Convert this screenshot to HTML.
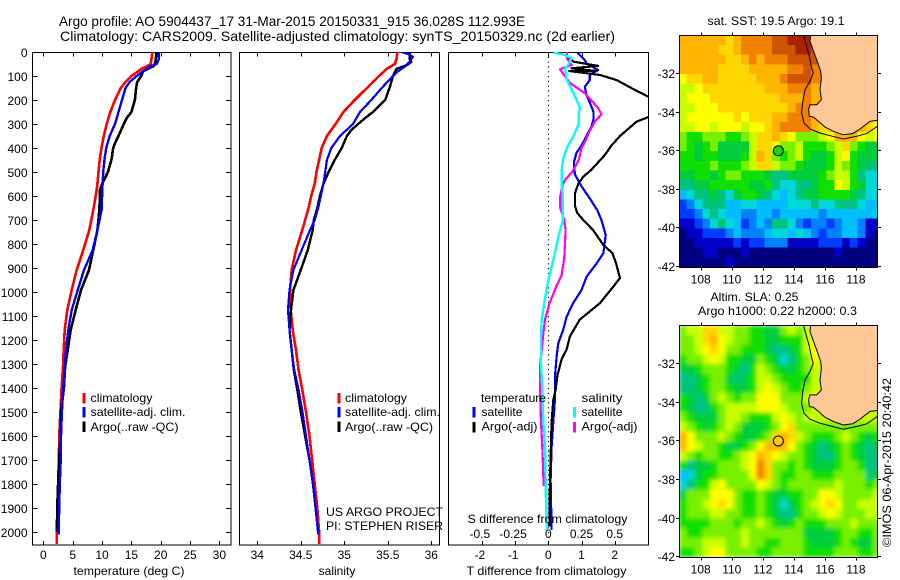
<!DOCTYPE html>
<html>
<head>
<meta charset="utf-8">
<title>Argo profile</title>
<style>
html,body{margin:0;padding:0;background:#fff;}
svg{display:block;}
text{font-family:"Liberation Sans",sans-serif;font-size:12px;fill:#000;}
.t{font-size:14px;}
</style>
</head>
<body>
<svg id="fig" xmlns="http://www.w3.org/2000/svg" width="900" height="580" viewBox="0 0 900 580">
<defs>
<clipPath id="clip-temp"><rect x="32.5" y="52" width="198.5" height="493"/></clipPath>
<clipPath id="clip-sal"><rect x="239.5" y="52" width="200" height="493"/></clipPath>
<clipPath id="clip-diff"><rect x="448.5" y="52" width="200" height="493"/></clipPath>
<clipPath id="clip-sst"><rect x="679.5" y="35.5" width="198" height="231.5"/></clipPath>
<clipPath id="clip-sla"><rect x="679.5" y="325.5" width="198" height="231.5"/></clipPath>
<filter id="soft" x="-5%" y="-5%" width="110%" height="110%"><feGaussianBlur stdDeviation="2"/></filter>
</defs>

<text class="t" x="59" y="26" textLength="466" lengthAdjust="spacingAndGlyphs">Argo profile: AO 5904437_17 31-Mar-2015 20150331_915 36.028S 112.993E</text>
<text class="t" x="60" y="41" textLength="555" lengthAdjust="spacingAndGlyphs">Climatology: CARS2009. Satellite-adjusted climatology: synTS_20150329.nc (2d earlier)</text>

<g id="g-temp"></g>
<g id="g-sal"></g>
<g id="g-diff"></g>
<g id="g-sst"></g>
<g id="g-sla"></g>

<text x="129" y="575" text-anchor="middle" textLength="111" lengthAdjust="spacingAndGlyphs">temperature (deg C)</text>
<text x="337" y="575" text-anchor="middle">salinity</text>
<text x="466.5" y="575" textLength="160" lengthAdjust="spacingAndGlyphs">T difference from climatology</text>
<text x="467.5" y="523" textLength="160" lengthAdjust="spacingAndGlyphs">S difference from climatology</text>

<g>
<rect x="82.5" y="393" width="3" height="10.5" fill="#f00"/>
<rect x="82.5" y="407" width="3" height="10.5" fill="#00f"/>
<rect x="82.5" y="421.5" width="3" height="10.5" fill="#000"/>
<text x="90.5" y="402" textLength="62" lengthAdjust="spacingAndGlyphs">climatology</text>
<text x="90.5" y="416" textLength="95" lengthAdjust="spacingAndGlyphs">satellite-adj. clim.</text>
<text x="90.5" y="431" textLength="88" lengthAdjust="spacingAndGlyphs">Argo(..raw -QC)</text>
</g>
<g>
<rect x="337.5" y="393" width="3" height="10.5" fill="#f00"/>
<rect x="337.5" y="407" width="3" height="10.5" fill="#00f"/>
<rect x="337.5" y="421.5" width="3" height="10.5" fill="#000"/>
<text x="345" y="402" textLength="62" lengthAdjust="spacingAndGlyphs">climatology</text>
<text x="345" y="416" textLength="95" lengthAdjust="spacingAndGlyphs">satellite-adj. clim.</text>
<text x="345" y="431" textLength="88" lengthAdjust="spacingAndGlyphs">Argo(..raw -QC)</text>
<text x="326" y="516" textLength="117" lengthAdjust="spacingAndGlyphs">US ARGO PROJECT</text>
<text x="326" y="530" textLength="117" lengthAdjust="spacingAndGlyphs">PI: STEPHEN RISER</text>
</g>
<g>
<text x="481" y="402" textLength="65" lengthAdjust="spacingAndGlyphs">temperature</text>
<text x="581.5" y="402" textLength="41" lengthAdjust="spacingAndGlyphs">salinity</text>
<rect x="472.5" y="407" width="3" height="10.5" fill="#00f"/>
<rect x="472.5" y="422" width="3" height="10.5" fill="#000"/>
<rect x="573" y="407" width="3" height="10.5" fill="#0ff"/>
<rect x="573" y="422" width="3" height="10.5" fill="#f0f"/>
<text x="481.5" y="416" textLength="41" lengthAdjust="spacingAndGlyphs">satellite</text>
<text x="481.5" y="430.5" textLength="56" lengthAdjust="spacingAndGlyphs">Argo(-adj)</text>
<text x="581.5" y="416" textLength="41" lengthAdjust="spacingAndGlyphs">satellite</text>
<text x="581.5" y="430.5" textLength="56" lengthAdjust="spacingAndGlyphs">Argo(-adj)</text>
</g>

<text x="776" y="25" text-anchor="middle" textLength="137" lengthAdjust="spacingAndGlyphs">sat. SST: 19.5 Argo: 19.1</text>
<text x="754.5" y="301" text-anchor="middle" textLength="88" lengthAdjust="spacingAndGlyphs">Altim. SLA: 0.25</text>
<text x="777.5" y="315" text-anchor="middle" textLength="159" lengthAdjust="spacingAndGlyphs">Argo h1000: 0.22 h2000: 0.3</text>
<text transform="translate(891,547) rotate(-90)" textLength="169" lengthAdjust="spacingAndGlyphs">©IMOS 06-Apr-2015 20:40:42</text>
</svg>

<script>
// ---- depth profile data (depth in m) ----
const tempClimDepth = [0,50,60,70,80,100,125,150,200,250,300,350,400,450,500,550,575,658,742,825,908,992,1075,1158,1242,1312,1400,1500,1600,1700,1800,1900,2000,2050];
const tempClimValues = [18.6,18.3,17.6,16.7,16.2,15,14,13.2,12.2,11.4,10.8,10.3,9.9,9.6,9.4,9.2,9.08,8.5,7.83,6.8,5.67,4.82,4.08,3.63,3.46,3.34,3.1,2.9,2.7,2.65,2.5,2.35,2.3,2.3];
const tempSatDepth = [0,30,50,60,70,80,100,125,150,200,250,300,350,400,450,500,575,658,742,825,908,992,1075,1158,1242,1312,1400,1500,1600,1700,1800,1900,2010];
const tempSatValues = [19.7,19.7,19.3,18.2,17.6,17,15.9,14.7,14,13.4,12.8,12.2,11.3,10.7,10.4,10.2,10.05,9.93,9.2,8.4,6.92,5.85,4.82,4.25,3.85,3.63,3.4,3.15,3,2.95,2.8,2.7,2.6];
const tempArgoDepth = [0,40,50,60,80,100,125,150,200,250,275,300,350,380,400,450,500,550,575,658,742,825,908,992,1075,1158,1242,1312,1400,1500,1600,1700,1800,1900,2000];
const tempArgoValues = [19.3,19.1,19,18.7,17,16.7,16,15.8,15.6,15,14.2,13.7,12.8,12.2,11.9,11.6,11,10,9.65,9.54,9.2,8.5,7.78,6.41,5.5,4.65,4.14,3.7,3.5,3,2.9,2.7,2.5,2.35,2.3];

const salClimDepth = [0,30,50,70,100,150,200,250,300,350,400,450,500,550,600,650,700,742,825,908,992,1075,1158,1242,1325,1408,1500,1600,1700,1800,1900,2000,2050];
const salClimValues = [35.61,35.6,35.58,35.49,35.4,35.26,35.12,34.99,34.9,34.8,34.74,34.71,34.68,34.66,34.62,34.59,34.55,34.517,34.445,34.395,34.376,34.384,34.407,34.445,34.475,34.517,34.56,34.6,34.63,34.66,34.69,34.71,34.71];
const salSatDepth = [0,10,20,40,60,80,100,150,200,250,300,350,400,450,500,550,600,650,700,742,825,908,992,1075,1158,1242,1325,1408,1500,1600,1700,1800,1900,2010];
const salSatValues = [35.66,35.74,35.79,35.75,35.7,35.62,35.56,35.43,35.31,35.18,35.1,34.95,34.85,34.8,34.78,34.76,34.73,34.7,34.66,34.606,34.51,34.415,34.37,34.353,34.37,34.395,34.425,34.475,34.52,34.56,34.6,34.64,34.67,34.7];
const salArgoDepth = [0,30,40,50,60,70,100,150,200,250,275,300,325,350,400,450,500,550,600,650,700,742,825,908,992,1075,1158,1242,1325,1408,1500,1600,1700,1800,1900,2000];
const salArgoValues = [35.75,35.75,35.77,35.74,35.68,35.6,35.56,35.52,35.47,35.33,35.24,35.16,35.08,35.03,34.97,34.89,34.82,34.76,34.72,34.69,34.65,34.637,34.58,34.5,34.415,34.387,34.37,34.395,34.42,34.46,34.5,34.55,34.6,34.64,34.67,34.7];

const dTSatDepth = [3,33,47,75,96,117,145,179,228,250,280,310,350,390,420,460,510,560,610,660,700,762,838,880,937,992,1046,1103,1158,1213,1270,1354,1450,1542,1646,1783,1992];
const dTSatValues = [0.88,1.1,1.15,1.5,1.25,1.25,1.1,1.15,1.3,1.36,1.36,1.3,1.15,1,0.85,0.77,0.8,1,1.25,1.48,1.6,1.73,1.66,1.46,1.15,1,0.75,0.55,0.45,0.3,0.25,0.2,0.2,0.15,0.1,0.07,0.1];
const dTArgoDepth = [20,40,58,68,79,79,96,117,150,186,225,272,290,320,350,390,430,490,520,550,590,640,670,700,742,804,838,880,942,977,1046,1115,1185,1240,1280,1350,1408,1450,1542,1783,1978];
const dTArgoValues = [0.6,0.75,1.5,0.7,1.45,0.63,1.56,2.06,2.5,3,3.6,3,2.66,2.41,2.16,1.9,1.7,1.3,1.05,0.9,0.8,0.8,0.87,1.05,1.35,1.66,1.93,2.04,2.16,1.96,1.56,0.95,0.65,0.55,0.4,0.27,0.22,0.15,0.1,0.05,0.03];
const dSSatDepth = [3,10,25,54,68,117,172,234,250,300,350,400,450,500,550,600,650,700,762,838,905,977,1046,1115,1185,1300,1408,1450,1542,1646,1783,1992];
const dSSatValues = [0.04,0.11,0.176,0.15,0.126,0.14,0.19,0.24,0.23,0.23,0.19,0.14,0.11,0.1,0.1,0.11,0.11,0.11,0.08,0.05,0.02,-0.01,-0.03,-0.05,-0.055,-0.055,-0.045,-0.043,-0.038,-0.025,-0.02,-0.013];
const dSArgoDepth = [0,27,54,72,129,172,234,260,290,330,370,400,450,500,530,550,600,650,700,742,804,860,930,977,1046,1115,1185,1300,1408,1450,1542,1646,1808];
const dSArgoValues = [0.14,0.14,0.176,0.088,0.163,0.276,0.376,0.4,0.35,0.31,0.28,0.25,0.23,0.18,0.13,0.11,0.09,0.09,0.12,0.13,0.125,0.12,0.1,0.06,0.01,-0.025,-0.04,-0.06,-0.06,-0.06,-0.055,-0.045,-0.035];

// ---- tick labels ----
const depthTicks = [0,100,200,300,400,500,600,700,800,900,1000,1100,1200,1300,1400,1500,1600,1700,1800,1900,2000];
const tempTicks = [0,5,10,15,20,25,30];
const salTicks = [34,34.5,35,35.5,36];
const dTTicks = [-2,-1,0,1,2];
const dSTicks = [-0.5,-0.25,0,0.25,0.5];
const dSTickLabels = ["-0.5","-0.25","0","0.25","0.5"];
const lonTicks = [108,110,112,114,116,118];
const latTicks = [-32,-34,-36,-38,-40,-42];

// ---- map data ----
const profileLon = 113;
const profileLat = -36.03;
const coastLon = [115.08,115.04,115.3,115.47,115.73,115.77,115.68,115.77,115.47,115.04,114.95,115,115.25,115.58,116,116.54,117.18,117.79,118.26,118.9,119.37];
const coastLat = [-30.03,-30.36,-30.96,-31.31,-31.91,-32.26,-32.86,-33.38,-33.64,-33.64,-33.9,-34.25,-34.28,-34.5,-34.8,-35.02,-35.2,-35.14,-34.9,-34.5,-34.45];
const isobathLon = [114.61,114.82,115,115.15,115.25,115.04,114.72,114.57,114.5,114.65,115.04,115.68,116.33,117.18,118.04,118.69,119.37];
const isobathLat = [-30.03,-30.62,-31.14,-31.74,-32,-32.43,-32.86,-33.47,-34.07,-34.59,-34.9,-35.11,-35.25,-35.42,-35.28,-35.14,-34.76];
// colour class per 0.5 degree cell, north to south, west to east
const sstGrid = [
[13,13,13,13,13,13,12,13,14,14,14,14,15,15,16,16,16,15,14,14,14,14,14,14,14,14],
[13,13,13,13,13,12,12,13,14,14,14,14,15,15,15,16,16,15,14,14,14,14,14,14,14,14],
[13,13,13,13,13,13,12,12,13,14,13,14,14,14,15,15,15,15,14,14,14,14,14,14,14,14],
[13,13,13,13,13,12,12,12,12,13,13,13,13,13,14,14,15,14,14,14,14,14,14,14,14,14],
[11,12,12,13,13,12,12,12,12,12,13,13,13,14,15,15,15,14,14,14,14,14,14,14,14,14],
[10,10,11,12,12,12,12,12,12,12,12,13,13,13,14,14,14,13,13,13,13,13,13,13,13,13],
[10,11,11,11,12,12,12,12,12,12,12,12,12,13,13,13,14,13,13,13,13,13,13,13,13,13],
[10,10,11,11,11,12,12,12,12,12,12,12,12,12,13,14,14,13,12,12,12,12,12,12,12,12],
[10,11,11,11,11,11,11,12,11,12,12,12,13,13,14,14,14,13,13,12,12,12,12,12,12,12],
[10,10,11,11,10,11,11,11,10,11,11,12,13,14,14,14,14,13,12,12,13,14,14,13,12,11],
[9,8,8,9,9,9,8,8,9,10,12,12,13,12,11,9,9,9,10,11,13,13,13,11,10,11],
[9,8,7,8,9,7,7,7,7,10,12,12,11,9,9,10,8,8,8,9,10,12,9,8,7,7],
[8,8,7,8,8,7,7,7,8,10,13,12,9,8,9,10,8,7,7,8,10,11,8,7,7,7],
[8,8,8,8,9,8,8,8,9,10,12,12,10,9,9,8,7,7,7,8,10,9,8,7,6,6],
[7,7,8,8,7,8,9,9,8,8,8,7,6,6,7,7,7,7,8,9,10,10,8,6,5,5],
[6,6,7,7,8,8,8,8,8,7,7,8,6,5,5,6,6,7,8,8,11,10,8,7,5,5],
[4,5,6,6,7,6,5,7,8,8,7,6,5,4,5,6,7,7,8,8,8,8,7,6,5,5],
[2,3,5,6,6,6,4,4,5,5,4,4,4,4,5,5,5,6,5,5,6,6,6,5,4,4],
[2,2,3,5,6,5,4,4,3,3,4,4,3,4,4,4,4,4,3,4,4,4,4,4,4,5],
[1,1,2,3,5,6,5,4,2,3,4,3,6,6,5,3,2,3,3,2,3,4,4,3,1,1],
[0,1,1,2,2,2,3,4,3,3,3,4,5,5,4,5,4,3,2,3,3,4,4,3,1,0],
[0,0,1,1,1,1,1,2,1,2,2,3,3,3,1,1,1,1,2,2,2,1,2,1,0,0],
[0,0,0,1,1,0,0,0,1,0,0,0,0,0,0,0,0,0,0,0,1,0,0,0,0,0],
[0,0,0,0,0,0,1,0,0,0,0,0,0,0,0,0,0,0,0,0,0,0,0,0,0,0]
];
const slaGrid = [
[9,10,10,12,12,10,10,9,9,8,8,7,7,9,10,9,10,10,10,10,10,10,10,10,10,10],
[9,9,10,12,13,11,10,9,9,8,8,7,7,8,8,8,10,11,10,10,10,10,10,10,10,10],
[9,9,10,11,12,11,9,9,8,8,8,7,6,6,7,8,10,11,10,10,10,10,10,10,10,10],
[8,9,9,10,11,10,8,8,7,7,9,8,7,5,6,8,9,11,10,10,10,10,10,10,10,10],
[7,7,8,9,9,9,8,7,6,8,10,9,8,7,7,8,9,10,10,10,10,10,10,10,10,10],
[6,6,7,8,9,9,7,6,7,8,10,10,9,8,8,8,8,10,10,10,10,10,10,10,10,10],
[6,6,7,8,9,9,8,7,7,8,10,11,10,9,8,8,9,10,10,10,10,10,10,10,10,10],
[8,7,6,7,9,10,9,8,9,9,11,11,11,9,9,9,10,11,10,10,10,10,10,10,10,10],
[8,7,6,6,8,9,10,10,10,10,11,11,11,10,9,9,9,10,10,10,10,10,10,10,10,10],
[9,8,7,7,7,9,10,10,9,8,8,8,10,11,10,9,10,10,10,10,10,10,10,10,10,10],
[10,9,8,7,8,9,10,9,7,7,7,8,9,11,12,9,9,9,9,9,9,9,9,9,9,9],
[13,11,9,9,9,10,9,8,7,7,8,9,12,13,12,10,9,8,8,8,9,10,9,8,7,8],
[13,11,10,9,9,8,7,7,8,9,11,13,13,13,11,9,8,7,6,7,8,9,8,7,6,7],
[10,9,8,9,9,8,8,9,10,11,13,12,11,10,9,9,8,7,6,6,8,9,8,7,6,6],
[8,6,7,7,8,9,9,9,10,11,14,12,9,9,8,9,8,7,7,7,8,9,9,8,6,6],
[4,5,7,8,8,9,9,9,9,11,14,12,9,8,8,9,9,8,8,8,9,9,9,9,6,7],
[5,6,8,8,10,11,9,9,9,9,11,10,9,8,9,9,9,9,9,9,10,9,9,9,8,9],
[7,9,9,9,11,11,11,9,8,8,9,8,7,7,8,8,9,9,11,11,10,9,9,9,9,10],
[8,9,9,10,11,12,11,9,8,8,9,8,7,5,7,8,9,10,11,12,11,9,9,10,10,10],
[8,9,9,9,10,10,9,9,8,8,9,8,7,6,6,8,9,9,10,11,10,9,9,9,10,10],
[8,8,8,8,9,9,9,8,9,9,10,9,8,7,8,9,8,8,8,9,9,9,10,9,9,9],
[9,8,8,9,9,9,9,9,10,9,9,9,9,9,9,9,7,7,7,7,8,9,9,8,8,9],
[9,9,9,10,10,10,9,9,10,9,9,8,8,9,9,9,8,7,7,7,8,9,8,7,7,9],
[8,8,9,10,11,11,9,9,9,9,8,8,9,9,9,9,8,8,8,8,9,9,9,8,8,9]
];
const colourClasses = ["#000080","#0000c8","#003cff","#0082ff","#00beff","#00d7d7","#00c382","#00cd3c","#10df00","#78f000","#c8ff00","#ffff00","#ffd700","#ffb400","#f08200","#cd5500","#aa2300"];

// ---- drawing helpers ----
const NS = "http://www.w3.org/2000/svg";
function make(tag, parent, attrs) {
  const el = document.createElementNS(NS, tag);
  for (const k in attrs) el.setAttribute(k, attrs[k]);
  parent.appendChild(el);
  return el;
}
function depthY(d) { return 52 + 0.24 * d; }
function tempX(v) { return 43.4 + 5.865 * v; }
function salX(v) { return 257.3 + 87 * (v - 34); }
function dTX(v) { return 548.3 + 33.2 * v; }
function dSX(v) { return 548.3 + 132.8 * v; }
function lonX(v) { return 700.7 + 15.53 * (v - 108); }
function sstLatY(v) { return 73 + 19.3 * (-32 - v); }
function slaLatY(v) { return 363.2 + 19.3 * (-32 - v); }

function frame(parent, x, y, w, h, name) {
  const el = make("rect", parent, {x:x, y:y, width:w, height:h, fill:"none", stroke:"#000", "stroke-width":1, "shape-rendering":"crispEdges"});
  
  
}
function tick(parent, x1, y1, x2, y2, name) {
  const el = make("line", parent, {x1:x1, y1:y1, x2:x2, y2:y2, stroke:"#000", "stroke-width":1, "shape-rendering":"crispEdges"});
  
  
}
function label(parent, x, y, anchor, str, name) {
  const el = make("text", parent, {x:x, y:y, "text-anchor":anchor});
  el.textContent = str;
  
  
}
function profile(parent, depths, values, xFn, colour, width, clip, name) {
  const pts = depths.map(function (d, i) { return xFn(values[i]).toFixed(1) + "," + depthY(d).toFixed(1); }).join(" ");
  const el = make("polyline", parent, {points:pts, fill:"none", stroke:colour, "stroke-width":width, "stroke-linejoin":"round", "shape-rendering":"crispEdges", "clip-path":"url(#" + clip + ")"});
  
  
}

// ---- temperature panel ----
const gT = document.getElementById("g-temp");
frame(gT, 32.5, 52.5, 198.5, 492.5, "temperature-axes-frame");
depthTicks.forEach(function (d) {
  const y = Math.round(depthY(d)) + 0.5;
  tick(gT, 32.5, y, 37.5, y, "depth-tick-left");
  tick(gT, 226, y, 231, y, "depth-tick-right");
  label(gT, 27.5, y + 4.5, "end", String(d), "depth-tick-label");
});
tempTicks.forEach(function (v) {
  const x = Math.round(tempX(v)) + 0.5;
  tick(gT, x, 52.5, x, 56.5, "temperature-tick-top");
  tick(gT, x, 541, x, 545, "temperature-tick-bottom");
  label(gT, tempX(v), 559, "middle", String(v), "temperature-tick-label");
});
profile(gT, tempClimDepth, tempClimValues, tempX, "#f00", 2.6, "clip-temp", "temperature-climatology-line");
profile(gT, tempArgoDepth, tempArgoValues, tempX, "#000", 2.6, "clip-temp", "temperature-argo-line");
profile(gT, tempSatDepth, tempSatValues, tempX, "#00f", 2.4, "clip-temp", "temperature-satellite-line");

// ---- salinity panel ----
const gS = document.getElementById("g-sal");
frame(gS, 239.5, 52.5, 200, 492.5, "salinity-axes-frame");
salTicks.forEach(function (v) {
  const x = Math.round(salX(v)) + 0.5;
  tick(gS, x, 52.5, x, 56.5, "salinity-tick-top");
  tick(gS, x, 541, x, 545, "salinity-tick-bottom");
  label(gS, salX(v), 559, "middle", String(v), "salinity-tick-label");
});
profile(gS, salClimDepth, salClimValues, salX, "#f00", 2.6, "clip-sal", "salinity-climatology-line");
profile(gS, salArgoDepth, salArgoValues, salX, "#000", 2.4, "clip-sal", "salinity-argo-line");
profile(gS, salSatDepth, salSatValues, salX, "#00f", 2.2, "clip-sal", "salinity-satellite-line");

// ---- difference panel ----
const gD = document.getElementById("g-diff");
frame(gD, 448.5, 52.5, 200, 492.5, "difference-axes-frame");
dTTicks.forEach(function (v) {
  const x = Math.round(dTX(v)) + 0.5;
  tick(gD, x, 52.5, x, 56.5, "t-difference-tick-top");
  tick(gD, x, 541, x, 545, "t-difference-tick-bottom");
  label(gD, dTX(v) - (v < 0 ? 2 : 0), 559, "middle", String(v), "t-difference-tick-label");
});
dSTicks.forEach(function (v, i) {
  label(gD, dSX(v) - (v < 0 ? 2 : 0), 538, "middle", dSTickLabels[i], "s-difference-tick-label");
});
const zeroLine = make("line", gD, {x1:548.5, y1:52, x2:548.5, y2:545, stroke:"#000", "stroke-width":1.2, "stroke-dasharray":"1.2 3.6"});


profile(gD, dTSatDepth, dTSatValues, dTX, "#00f", 2.2, "clip-diff", "t-difference-satellite-line");
profile(gD, dTArgoDepth, dTArgoValues, dTX, "#000", 2.2, "clip-diff", "t-difference-argo-line");
profile(gD, dSArgoDepth, dSArgoValues, dSX, "#f0f", 2.2, "clip-diff", "s-difference-argo-line");
profile(gD, dSSatDepth, dSSatValues, dSX, "#0ff", 2.4, "clip-diff", "s-difference-satellite-line");

// ---- maps ----
function drawMap(parent, grid, latY, clip, top, bottom, markerFill, soft, prefix) {
  const clipGroup = make("g", parent, {"clip-path":"url(#" + clip + ")"});
  
  
  const cells = make("g", clipGroup, soft ? {filter:"url(#soft)"} : {});
  
  
  grid.forEach(function (row, r) {
    const lat0 = -30.05 - 0.5 * r;
    row.forEach(function (c, k) {
      const lon0 = 106.6 + 0.5 * k;
      const x0 = lonX(lon0), x1 = lonX(lon0 + 0.5), y0 = latY(lat0), y1 = latY(lat0 - 0.5);
      const cell = make("rect", cells, {x:x0, y:y0, width:x1 - x0 + 0.4, height:y1 - y0 + 0.4, fill:colourClasses[c], "shape-rendering":"crispEdges"});
      
      
    });
  });
  const corner = lonX(119.6).toFixed(1) + "," + latY(-34.45).toFixed(1) + " " + lonX(119.6).toFixed(1) + "," + latY(-29.5).toFixed(1) + " " + lonX(115.08).toFixed(1) + "," + latY(-29.5).toFixed(1);
  const coastPts = coastLon.map(function (v, i) { return lonX(v).toFixed(1) + "," + latY(coastLat[i]).toFixed(1); }).join(" ");
  const land = make("polygon", clipGroup, {points:coastPts + " " + corner, fill:"#fec896", stroke:"#000", "stroke-width":1});
  
  
  const isoPts = isobathLon.map(function (v, i) { return lonX(v).toFixed(1) + "," + latY(isobathLat[i]).toFixed(1); }).join(" ");
  const iso = make("polyline", clipGroup, {points:isoPts, fill:"none", stroke:"#000", "stroke-width":1});
  
  
  const mark = make("circle", clipGroup, {cx:lonX(profileLon), cy:latY(profileLat), r:5, fill:markerFill, stroke:"#000", "stroke-width":1});
  
  
  frame(parent, 679.5, top, 198, bottom - top, prefix + "-frame");
  lonTicks.forEach(function (v) {
    const x = Math.round(lonX(v)) + 0.5;
    tick(parent, x, top - 3, x, top, prefix + "-lon-tick-top");
    tick(parent, x, bottom, x, bottom + 3, prefix + "-lon-tick-bottom");
    label(parent, lonX(v), bottom + 16, "middle", String(v), prefix + "-lon-label");
  });
  latTicks.forEach(function (v) {
    const y = Math.round(latY(v)) + 0.5;
    tick(parent, 676, y, 679.5, y, prefix + "-lat-tick-left");
    tick(parent, 877.5, y, 881, y, prefix + "-lat-tick-right");
    label(parent, 675, y + 4.5, "end", String(v), prefix + "-lat-label");
  });
}
drawMap(document.getElementById("g-sst"), sstGrid, sstLatY, "clip-sst", 35.5, 267.5, "#28d200", false, "sst");
drawMap(document.getElementById("g-sla"), slaGrid, slaLatY, "clip-sla", 325.5, 557.5, "#ffc800", true, "sla");
</script>
</body>
</html>
